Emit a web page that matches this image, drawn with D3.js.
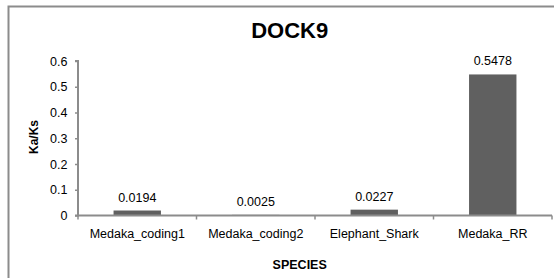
<!DOCTYPE html>
<html><head><meta charset="utf-8">
<script src="https://cdn.jsdelivr.net/npm/d3@7"></script>
<style>
html,body{margin:0;padding:0;background:#fff;}
svg{display:block;font-family:"Liberation Sans",Arial,sans-serif;}
</style></head>
<body>
<svg id="c" width="554" height="278"></svg>
<script>
const categories = ["Medaka_coding1","Medaka_coding2","Elephant_Shark","Medaka_RR"];
const values = [0.0194, 0.0025, 0.0227, 0.5478];
const valueLabels = ["0.0194","0.0025","0.0227","0.5478"];
const yTicks = [0, 0.1, 0.2, 0.3, 0.4, 0.5, 0.6];
const title = "DOCK9";
const yTitle = "Ka/Ks";
const xTitle = "SPECIES";

const svg = d3.select("#c");
const axisColor = "#8c8c8c";
const fs = "12.5px";

// chart area border (extends past the image on right/bottom)
svg.append("rect").attr("x",8.5).attr("y",6.5).attr("width",570).attr("height",290)
  .attr("fill","#fff").attr("stroke",axisColor).attr("stroke-width",2);

const y = d3.scaleLinear().domain([0,0.6]).range([215.5,61]);
const x = d3.scaleBand().domain(categories).range([78,552]).paddingInner(0.6).paddingOuter(0.3);

// bars
svg.selectAll("rect.bar").data(values).enter().append("rect")
  .attr("class","bar")
  .attr("x",(d,i)=>x(categories[i]))
  .attr("width",x.bandwidth())
  .attr("y",d=>y(d))
  .attr("height",d=>y(0)-y(d))
  .attr("fill","#606060");

// y axis
const yAxis = d3.axisLeft(y).tickValues(yTicks).tickSize(3).tickPadding(7)
  .tickFormat(d=>d===0?"0":d3.format(".1f")(d));
const gy = svg.append("g").attr("transform","translate(78,0)").call(yAxis);
gy.select(".domain").attr("stroke",axisColor).attr("stroke-width",2).attr("d","M-3,61H0V215.5H-3");
gy.selectAll(".tick line").attr("stroke",axisColor).attr("stroke-width",1.5);
gy.selectAll(".tick text").attr("fill","#000").style("font-size",fs).attr("x",-10.5);

// x axis
const [r0,r1] = x.range();
const xAxis = d3.axisBottom(x).tickSize(0).tickPadding(14);
const gx = svg.append("g").attr("transform",`translate(0,${y(0)})`).call(xAxis);
gx.select(".domain").attr("stroke",axisColor).attr("stroke-width",2).attr("d",`M${r0},0H${r1}`);
gx.selectAll(".tick text").attr("fill","#000").style("font-size",fs).attr("dy","0.71em");
// category separator ticks
const step = (r1-r0)/categories.length;
svg.append("g").selectAll("line").data(d3.range(categories.length+1)).enter().append("line")
  .attr("x1",i=>r0+i*step).attr("x2",i=>r0+i*step)
  .attr("y1",y(0)).attr("y2",y(0)+4)
  .attr("stroke",axisColor).attr("stroke-width",1.5);

// value labels
svg.selectAll("text.vl").data(values).enter().append("text")
  .attr("class","vl")
  .attr("x",(d,i)=>x(categories[i])+x.bandwidth()/2)
  .attr("y",d=>y(d)-9)
  .attr("text-anchor","middle").style("font-size",fs).attr("fill","#000")
  .text((d,i)=>valueLabels[i]);

// titles
svg.append("text").attr("x",289.7).attr("y",37.7).attr("text-anchor","middle")
  .style("font-size","22px").style("font-weight","bold").text(title);
svg.append("text").attr("transform","translate(37.5,137) rotate(-90)").attr("text-anchor","middle")
  .style("font-size","12px").style("font-weight","bold").text(yTitle);
svg.append("text").attr("x",299.7).attr("y",269.3).attr("text-anchor","middle")
  .style("font-size","12.5px").style("font-weight","bold").text(xTitle);
</script>
</body></html>
